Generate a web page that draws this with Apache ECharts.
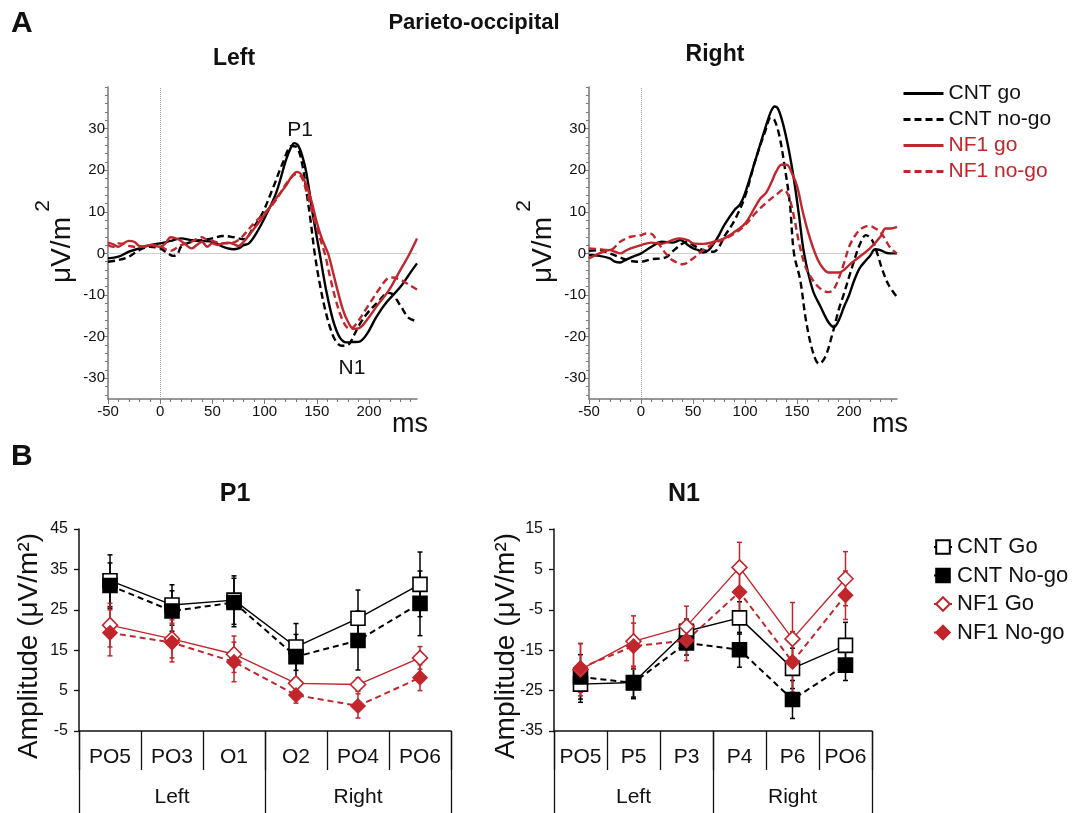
<!DOCTYPE html>
<html><head><meta charset="utf-8">
<script src="https://cdn.jsdelivr.net/npm/echarts@6/dist/echarts.min.js"></script>
<style>html,body{margin:0;padding:0;background:#fff}#c{width:1080px;height:813px}</style>
</head><body><div id="c"></div>
<script>
// ===== Panel A: ERP waveforms (time in ms, amplitude in µV/m²) =====
// Left hemisphere
const L_cntGo_t = [-50,-40,-30,-20,-10,0,10,20,30,40,50,60,65,70,75,80,85,92,100,111,120.7,125.5,128.5,132,136,140,146,152.8,159,165.6,172,178.5,185,191,198,207,217,230,240,246];
const L_cntGo_v = [-1.2,-0.8,0.4,1.2,2.0,2.4,3.0,3.6,3.2,3.0,2.8,1.6,1.2,1.0,1.2,2.0,2.4,4.8,8.5,14.5,22.6,25.6,26.5,26.0,23.5,19.4,9.7,0,-8.9,-16.1,-20.2,-21.4,-21.3,-21.2,-19.4,-15.3,-11.7,-8.1,-4.5,-2.4];
const L_cntNogo_t = [-50,-40,-30,-20,-10,0,5,10,13,17,20,30,40,50,60,70,80,90,98,108,117.5,126,131,136,140,144,148,153,158,163,168,174,180,186,190,198,210,218,222,230,238,246];
const L_cntNogo_v = [-2.0,-1.6,-0.8,0.8,1.6,1.2,0.4,-0.4,-0.6,0,1.6,2.8,3.2,3.6,4.2,3.9,3.4,6.5,9.7,15.7,21.8,25.8,25.5,21.5,15,8,0,-7.5,-13.5,-18,-21,-22.2,-22,-19.5,-17.5,-14.5,-11.3,-9.5,-9.7,-12.5,-15.5,-16.3];
const L_nf1Go_t = [-50,-45,-40,-35,-30,-25,-20,-15,-10,0,5,10,15,20,25,30,35,40,45,50,55,60,65,70,75,80,90,100,110,120,126,131,135,140,145,150,155,160.8,165,170,175,180,185,190,198,208,219,230,238,246];
const L_nf1Go_v = [2.6,2.2,1.6,2.4,3.0,2.8,1.8,1.6,2.0,1.6,2.4,3.9,3.6,3.0,2.0,1.2,2.0,2.8,1.6,2.4,2.0,2.4,2.6,2.3,1.8,2.8,6.0,9.3,12.9,16.1,18.5,19.6,19.0,16.5,12.5,7.5,3.5,0,-4,-9,-13.5,-16.5,-18.1,-18,-16,-12.5,-8.9,-4.0,-0.5,3.6];
const L_nf1Nogo_t = [-50,-45,-40,-35,-30,-20,-10,0,5,10,15,20,30,40,45,50,60,70,75,80,90,100,110,120,125,130,135,140,145,150,157.6,163,168,173,178,182,187,193,200,210,218,222,230,238,246];
const L_nf1Nogo_v = [2.0,1.6,2.4,2.3,1.8,1.5,2.0,1.8,1.0,0.6,1.2,2.0,2.8,3.9,3.2,3.0,2.4,2.6,3.2,4.4,7.3,9.7,12.5,16.5,18.1,19.1,18.5,15,10.5,6,0,-6,-11,-15,-17.5,-18.2,-17.2,-15,-12.3,-8.5,-6,-5.8,-6.3,-7.5,-8.7];
// Right hemisphere
const R_cntGo_t = [-50,-40,-30,-25,-20,-15,-10,0,10,20,30,38,45,50,55,60,65,70,75,80,90,95,100,110,120,125,128.5,132,137,142,147,152,156.7,165,172.7,180,185.5,190,195,200,205,210,215,220,225,230,235,240,246];
const R_cntGo_v = [-0.4,-0.6,-1.2,-2.0,-2.2,-1.6,-1.0,0,1.6,2.8,2.6,3.2,2.0,1.2,0.8,0.2,0.8,2.4,4.4,6.8,10.5,11.7,14.5,22.5,30.6,34.2,35.3,34.6,30.6,24.9,17.7,8.8,0,-8.8,-12.9,-16.5,-17.7,-16.1,-12.9,-10,-6.4,-3.6,-2.0,-0.6,1.0,0.8,0.2,0,0];
const R_cntNogo_t = [-50,-40,-30,-20,-10,0,10,20,25,30,40,45,50,60,70,75,80,90,100,110,120,124.6,128,133,138,143,147,153,158,163,168,171,177,184,190,195,200,205,210,216,222,227,232,238,246];
const R_cntNogo_v = [0.6,0.8,0,-1.0,-1.8,-2.0,-1.4,-1.2,-0.8,0.4,2.4,2.8,2.0,0.8,0.4,1.6,4.0,8.0,13.7,22.5,29.8,32.6,32.2,28.2,20.9,12.1,0,-6.4,-15.3,-21.7,-25.7,-26.5,-24.9,-19.3,-13.5,-9.7,-5.6,-1.6,2.0,4.4,3.2,0,-4.0,-7.6,-10.5];
const R_nf1Go_t = [-50,-40,-30,-25,-20,-15,-10,0,10,20,30,37,45,50,60,70,80,90,100,110,115,120,125,130,135,140,145,150,155,160,165,170,175,180,190,195,200,210,220,230,235,240,246];
const R_nf1Go_v = [-1.2,0,0.8,0.4,0,0.6,1.2,2.0,2.6,2.3,3.2,3.6,3.2,2.4,2.3,2.8,3.6,5.2,7.2,11.3,13.3,14.5,16.9,19.7,21.3,21.3,19.3,16.1,10.5,5.6,1.6,-1.6,-3.6,-4.6,-4.6,-4.0,-2.8,-0.8,1.2,4.0,6.0,6.0,6.4];
const R_nf1Nogo_t = [-50,-40,-30,-20,-10,0,5,10,15,20,25,30,40,50,60,70,80,90,100,110,120,130,137,142,147,152,158,165,172,180,185,190,195,200,205,210,215,220,225,230,235,240,246];
const R_nf1Nogo_v = [1.2,1.0,0.8,2.8,4.0,4.4,4.8,4.7,3.2,1.2,-0.4,-1.6,-2.6,-1.2,0.8,2.4,3.4,4.8,6.8,9.7,12.1,14.1,15.3,13.7,8.8,2.4,-3.2,-6.4,-8.4,-9.3,-8.7,-6.0,-2.4,1.6,4.0,5.6,6.4,6.6,6.0,5.2,3.2,1.2,0];

// axis tick positions (panel A)
const A_xLabels = [-50,0,50,100,150,200];
const A_xMinor = [-40,-30,-20,-10,10,20,30,40,60,70,80,90,110,120,130,140,160,170,180,190,210,220,230,240];
const A_yLabels = [-30,-20,-10,0,10,20,30];
const A_yMinor = [-34,-32,-28,-26,-24,-22,-18,-16,-14,-12,-8,-6,-4,-2,2,4,6,8,12,14,16,18,22,24,26,28,32,34,36,38,40];

// ===== Panel B: mean amplitudes with error bars =====
const P1_cats = ['PO5','PO3','O1','O2','PO4','PO6'];
const N1_cats = ['PO5','P5','P3','P4','P6','PO6'];
const groups = ['Left','Right'];
const P1_ticks = [-5,5,15,25,35,45];
const N1_ticks = [-35,-25,-15,-5,5,15];

const P1_cntGo   = [32.2,26.2,27.4,15.8,22.9,31.3];
const P1_cntNogo = [31.0,24.7,26.8,13.4,17.4,26.6];
const P1_nf1Go   = [21.2,17.8,14.0,6.8,6.5,13.1];
const P1_nf1Nogo = [19.3,16.9,12.1,3.9,1.2,8.2];
const P1_cntGo_err   = [6.4,5.0,6.0,5.8,7.0,8.0];
const P1_cntNogo_err = [5.6,5.0,6.0,5.5,7.3,8.0];
const P1_nf1Go_err   = [5.4,4.7,4.5,1.4,1.7,2.8];
const P1_nf1Nogo_err = [5.7,4.8,4.9,2.0,3.0,3.2];

const N1_cntGo   = [-23.4,-23.0,-10.3,-7.0,-19.5,-13.8];
const N1_cntNogo = [-21.6,-23.1,-13.2,-14.9,-27.2,-18.7];
const N1_nf1Go   = [-19.8,-12.8,-9.1,5.5,-12.2,2.7];
const N1_nf1Nogo = [-19.4,-14.0,-12.6,-0.6,-17.9,-1.4];
const N1_cntGo_err   = [4.5,4.0,3.0,4.0,5.0,5.7];
const N1_cntNogo_err = [5.5,3.5,3.0,4.3,4.7,3.8];
const N1_nf1Go_err   = [6.5,6.3,5.0,6.2,9.0,6.7];
const N1_nf1Nogo_err = [6.0,5.7,5.0,5.5,7.5,6.0];

// ===== styling =====
const RED = '#c0262c';
const FONT = '"Liberation Sans", Arial, Helvetica, sans-serif';
const AXC = '#777';

function zip(t, v){ return t.map((x,i)=>[x, v[i]]); }
function errData(vals, errs){ return vals.map((v,i)=>[i, v-errs[i], v+errs[i]]); }

function errRender(color){
  return function(params, api){
    const x = api.value(0), lo = api.value(1), hi = api.value(2);
    const p1 = api.coord([x, hi]), p2 = api.coord([x, lo]);
    const w = 2.5, st = {stroke: color, lineWidth: 1.5};
    return {type:'group', children:[
      {type:'line', shape:{x1:p1[0],y1:p1[1],x2:p2[0],y2:p2[1]}, style:st},
      {type:'line', shape:{x1:p1[0]-w,y1:p1[1],x2:p1[0]+w,y2:p1[1]}, style:st},
      {type:'line', shape:{x1:p2[0]-w,y1:p2[1],x2:p2[0]+w,y2:p2[1]}, style:st}
    ]};
  };
}

function aXAxes(grid){
  return [
    {type:'value', gridIndex:grid, min:-50, max:246, position:'bottom',
     axisLine:{show:true, onZero:false, lineStyle:{color:AXC, width:1.5}},
     axisTick:{show:true, customValues:A_xLabels, length:5, lineStyle:{color:AXC}},
     axisLabel:{customValues:A_xLabels, fontSize:15, color:'#111', margin:5, fontFamily:FONT},
     splitLine:{show:false}},
    {type:'value', gridIndex:grid, min:-50, max:246, position:'bottom',
     axisLine:{show:false, onZero:false},
     axisTick:{show:true, customValues:A_xMinor, length:3, lineStyle:{color:AXC}},
     axisLabel:{show:false}, splitLine:{show:false}}
  ];
}
function aYAxes(grid){
  return [
    {type:'value', gridIndex:grid, min:-35, max:40, position:'left',
     axisLine:{show:true, onZero:false, lineStyle:{color:AXC, width:1.5}},
     axisTick:{show:true, customValues:A_yLabels, length:5, lineStyle:{color:AXC}},
     axisLabel:{customValues:A_yLabels, fontSize:15, color:'#111', margin:3, fontFamily:FONT},
     splitLine:{show:false}},
    {type:'value', gridIndex:grid, min:-35, max:40, position:'left',
     axisLine:{show:false, onZero:false},
     axisTick:{show:true, customValues:A_yMinor, length:3, lineStyle:{color:AXC}},
     axisLabel:{show:false}, splitLine:{show:false}}
  ];
}
function bXAxes(grid, cats){
  return [
    {type:'category', gridIndex:grid, data:cats, position:'bottom', boundaryGap:true,
     axisLine:{show:true, onZero:false, lineStyle:{color:'#111', width:1.5}},
     axisTick:{show:true, interval:0, length:39, lineStyle:{color:'#111', width:1.3}},
     axisLabel:{interval:0, fontSize:21, color:'#111', margin:16, fontFamily:FONT}},
    {type:'category', gridIndex:grid, data:groups, position:'bottom', boundaryGap:true,
     axisLine:{show:false, onZero:false},
     axisTick:{show:true, interval:0, length:82, lineStyle:{color:'#111', width:1.3}},
     axisLabel:{interval:0, fontSize:21, color:'#111', margin:56, fontFamily:FONT}}
  ];
}
function bYAxis(grid, ticks){
  return {type:'value', gridIndex:grid, min:ticks[0], max:ticks[ticks.length-1], position:'left',
     axisLine:{show:true, onZero:false, lineStyle:{color:'#111', width:1.5}},
     axisTick:{show:true, customValues:ticks, length:5, lineStyle:{color:'#111', width:1.3}},
     axisLabel:{customValues:ticks, fontSize:16, color:'#111', margin:11, fontFamily:FONT},
     splitLine:{show:false}};
}

const DASH = [7,4];
function aSeries(name, t, v, color, dashed, xi, yi, mark){
  const s = {type:'line', name:name, xAxisIndex:xi, yAxisIndex:yi, data:zip(t,v),
    symbol:'none', smooth:0.35, z:3,
    lineStyle:{color:color, width:2.4, type: dashed ? DASH : 'solid'},
    itemStyle:{color:color}};
  if (mark){
    s.markLine = {silent:true, symbol:['none','none'], label:{show:false}, animation:false, z:1,
      data:[
        {yAxis:0, lineStyle:{color:'#cfcfcf', type:'solid', width:1}},
        {xAxis:0, lineStyle:{color:'#9a9a9a', type:'dotted', width:1}}
      ]};
  }
  return s;
}
function bLine(name, vals, xi, yi, kind){
  const cfg = {
    'CNT Go':   {sym:'rect', size:14, fill:'#fff', stroke:'#000', line:'#000', dash:false},
    'CNT No-go':{sym:'rect', size:14, fill:'#000', stroke:'#000', line:'#000', dash:true},
    'NF1 Go':   {sym:'diamond', size:15, fill:'#fff', stroke:RED, line:RED, dash:false},
    'NF1 No-go':{sym:'diamond', size:14, fill:RED, stroke:RED, line:RED, dash:true}
  }[kind];
  return {type:'line', name:name, xAxisIndex:xi, yAxisIndex:yi, data:vals, z:4,
    symbol:cfg.sym, symbolSize:cfg.size, showAllSymbol:true,
    itemStyle:{color:cfg.fill, borderColor:cfg.stroke, borderWidth:1.6, opacity:1},
    lineStyle:{color:cfg.line, width: cfg.dash ? 2 : 1.4, type: cfg.dash ? [6,4] : 'solid'}};
}
function bErr(vals, errs, color, xi, yi){
  return {type:'custom', xAxisIndex:xi, yAxisIndex:yi, data:errData(vals, errs), z:2,
    encode:{x:0, y:[1,2]}, renderItem:errRender(color), silent:true};
}

const series = [
  aSeries('CNT go', L_cntGo_t, L_cntGo_v, '#000', false, 0, 0, true),
  aSeries('CNT no-go', L_cntNogo_t, L_cntNogo_v, '#000', true, 0, 0, false),
  aSeries('NF1 go', L_nf1Go_t, L_nf1Go_v, RED, false, 0, 0, false),
  aSeries('NF1 no-go', L_nf1Nogo_t, L_nf1Nogo_v, RED, true, 0, 0, false),
  aSeries('CNT go', R_cntGo_t, R_cntGo_v, '#000', false, 2, 2, true),
  aSeries('CNT no-go', R_cntNogo_t, R_cntNogo_v, '#000', true, 2, 2, false),
  aSeries('NF1 go', R_nf1Go_t, R_nf1Go_v, RED, false, 2, 2, false),
  aSeries('NF1 no-go', R_nf1Nogo_t, R_nf1Nogo_v, RED, true, 2, 2, false),

  bErr(P1_cntGo, P1_cntGo_err, '#000', 4, 4),
  bErr(P1_cntNogo, P1_cntNogo_err, '#000', 4, 4),
  bErr(P1_nf1Go, P1_nf1Go_err, RED, 4, 4),
  bErr(P1_nf1Nogo, P1_nf1Nogo_err, RED, 4, 4),
  bLine('CNT Go', P1_cntGo, 4, 4, 'CNT Go'),
  bLine('CNT No-go', P1_cntNogo, 4, 4, 'CNT No-go'),
  bLine('NF1 Go', P1_nf1Go, 4, 4, 'NF1 Go'),
  bLine('NF1 No-go', P1_nf1Nogo, 4, 4, 'NF1 No-go'),

  bErr(N1_cntGo, N1_cntGo_err, '#000', 6, 5),
  bErr(N1_cntNogo, N1_cntNogo_err, '#000', 6, 5),
  bErr(N1_nf1Go, N1_nf1Go_err, RED, 6, 5),
  bErr(N1_nf1Nogo, N1_nf1Nogo_err, RED, 6, 5),
  bLine('CNT Go', N1_cntGo, 6, 5, 'CNT Go'),
  bLine('CNT No-go', N1_cntNogo, 6, 5, 'CNT No-go'),
  bLine('NF1 Go', N1_nf1Go, 6, 5, 'NF1 Go'),
  bLine('NF1 No-go', N1_nf1Nogo, 6, 5, 'NF1 No-go')
];

function txt(x, y, text, size, opts){
  opts = opts || {};
  return {type:'text', x:x, y:y, rotation: opts.rot || 0, silent:true,
    style:{text:text, fontSize:size, fontWeight: opts.bold ? 'bold' : 'normal', fontFamily:FONT,
      fill: opts.color || '#111', align: opts.align || 'center', verticalAlign:'middle'}};
}
const R90 = Math.PI/2;
const graphics = [
  txt(11, 24, 'A', 30, {bold:true, align:'left'}),
  txt(474, 23, 'Parieto-occipital', 22, {bold:true}),
  txt(234, 59, 'Left', 23, {bold:true}),
  txt(715, 55, 'Right', 23, {bold:true}),
  txt(62, 250, 'μV/m', 28, {rot:R90}),
  txt(43, 206, '2', 21, {rot:R90}),
  txt(543, 250, 'μV/m', 28, {rot:R90}),
  txt(524, 206, '2', 21, {rot:R90}),
  txt(410, 425, 'ms', 27),
  txt(890, 425, 'ms', 27),
  txt(11, 457, 'B', 30, {bold:true, align:'left'}),
  txt(235, 494, 'P1', 25, {bold:true}),
  txt(684, 494, 'N1', 25, {bold:true}),
  txt(29, 646, 'Amplitude (μV/m²)', 28, {rot:R90}),
  txt(506, 646, 'Amplitude (μV/m²)', 28, {rot:R90}),
  txt(300, 130, 'P1', 21),
  txt(352, 368, 'N1', 21)
];

const option = {
  animation:false,
  backgroundColor:'#fff',
  textStyle:{fontFamily:FONT},
  grid:[
    {left:108, top:87, width:309, height:312},
    {left:589, top:87, width:308, height:312},
    {left:79, top:529, width:372, height:202},
    {left:554, top:529, width:318, height:202}
  ],
  xAxis:[].concat(aXAxes(0), aXAxes(1), bXAxes(2, P1_cats), bXAxes(3, N1_cats)),
  yAxis:[].concat(aYAxes(0), aYAxes(1), [bYAxis(2, P1_ticks), bYAxis(3, N1_ticks)]),
  legend:[
    {orient:'vertical', left:897, top:78, itemWidth:40, itemHeight:14, itemGap:5, selectedMode:false,
     itemStyle:{opacity:0}, lineStyle:{width:3},
     textStyle:{fontSize:21, lineHeight:20, fontFamily:FONT},
     data:[
       {name:'CNT go', textStyle:{color:'#111'}},
       {name:'CNT no-go', textStyle:{color:'#111'}},
       {name:'NF1 go', textStyle:{color:RED}},
       {name:'NF1 no-go', textStyle:{color:RED}}
     ]},
    {orient:'vertical', left:928, top:531, itemWidth:18, itemHeight:17, itemGap:6.5, selectedMode:false,
     textStyle:{fontSize:22, lineHeight:21, color:'#111', fontFamily:FONT},
     data:['CNT Go','CNT No-go','NF1 Go','NF1 No-go']}
  ],
  graphic: graphics,
  series: series
};

const chart = echarts.init(document.getElementById('c'), null, {renderer:'canvas'});
chart.setOption(option);
</script>
</body></html>
